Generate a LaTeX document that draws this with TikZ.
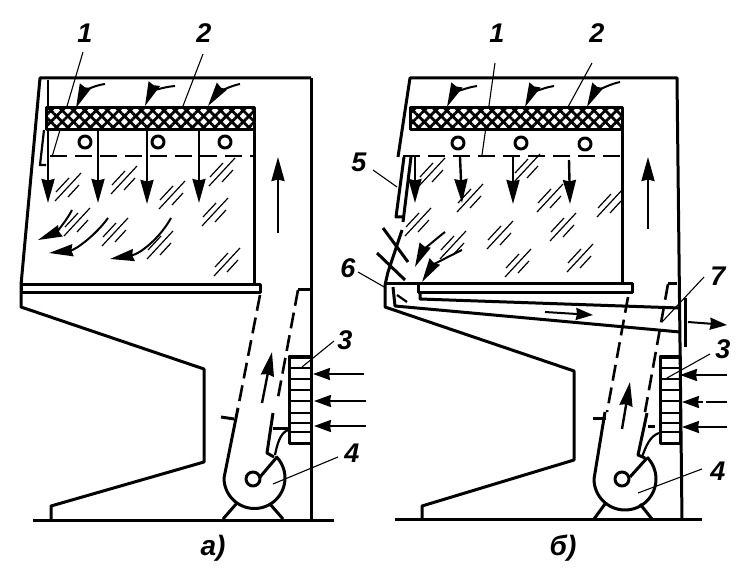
\documentclass[tikz,border=0pt]{standalone}
\usepackage{fontspec}
\setmainfont{Liberation Sans}
\usetikzlibrary{arrows.meta,patterns.meta}
\tikzset{
  wall/.style={line width=3pt, line join=round},
  leader/.style={line width=1.1pt},
  dashwall/.style={line width=2.6pt, dash pattern=on 16pt off 7pt},
  sashline/.style={line width=2.2pt},
  screen/.style={line width=1.8pt, dash pattern=on 17pt off 8pt},
  flow/.style={line width=2.4pt, -{Stealth[length=24pt,width=13pt,inset=1.5pt]}},
  swirl/.style={line width=2pt, -{Stealth[length=24pt,width=12pt,inset=1.5pt]}},
  intake/.style={line width=2pt, -{Stealth[length=17pt,width=12pt,inset=1pt]}},
  numlabel/.style={font=\bfseries\itshape\fontsize{27}{27}\selectfont, inner sep=0pt},
  caplabel/.style={font=\bfseries\itshape\fontsize{28}{28}\selectfont, inner sep=0pt},
  glass/.pic={
    \draw[line width=1.2pt] (-13,14) -- (13,-14);
    \draw[line width=1.2pt] (-12,5) -- (1,-9);
    \draw[line width=1.2pt] (0,10) -- (11,-2);
  }
}
\newcommand{\filterbar}[4]{
  \fill[white] (#1,#2) rectangle (#3,#4);
  \fill[pattern={Lines[angle=45,distance=8pt,line width=2.8pt]}] (#1,#2) rectangle (#3,#4);
  \fill[pattern={Lines[angle=-45,distance=8pt,line width=2.8pt]}] (#1,#2) rectangle (#3,#4);
  \draw[wall] (#1,#2) rectangle (#3,#4);
}
\begin{document}
\begin{tikzpicture}[x=1pt, y=-1pt]
    \useasboundingbox (0,0) rectangle (745,580);
    % a)
    \node[numlabel] (a1) at (85,33) {1};
    \node[numlabel] (a2) at (204,33) {2};
    \node[numlabel] (a3) at (345,340) {3};
    \node[numlabel] (a4) at (352,453) {4};
    \node[caplabel] (acap) at (213,548) {а)};
    \coordinate (a1end) at (52,157);
    \coordinate (a2end) at (183,106);
    \coordinate (a3end) at (302,367);
    \coordinate (a4end) at (273,484);
    \draw[leader] (83,52) -- (a1end);
    \draw[leader] (203,54) -- (a2end);
    \draw[leader] (334,341) -- (a3end);
    \draw[leader] (338,457) -- (a4end);
    \draw[wall] (311,78) -- (40,78) -- (21,285) -- (21,307) -- (204,369) -- (204,462) -- (51,506) -- (51,520);
    \draw[wall] (311,78) -- (311,520);
    \draw[wall] (33,520) -- (334,520);
    \draw[wall] (21,285) rectangle (260,293);
    \draw[wall] (254,108) -- (254,285);
    \draw[sashline] (48,80) -- (48,108);
    \draw[sashline] (44,130) -- (40,165) -- (46,165);
    \filterbar{46}{108}{254}{130}
    \draw[screen] (50,156) -- (253,156);
    \draw[wall] (85,142) circle (6);
    \draw[wall] (158,142) circle (6);
    \draw[wall] (225,142) circle (6);
    \draw[flow] (48,130) -- (48,203);
    \draw[flow] (98,130) -- (98,203);
    \draw[flow] (147,130) -- (147,204);
    \draw[flow] (199,130) -- (199,203);
    \draw[swirl] (105,84) .. controls (90,86) and (82,94) .. (76,108);
    \draw[swirl] (175,86) .. controls (160,87) and (150,94) .. (145,106);
    \draw[swirl] (240,84) .. controls (225,87) and (215,96) .. (208,106);
    \draw[swirl] (72,210) .. controls (66,222) and (55,233) .. (38,240);
    \draw[swirl] (108,218) .. controls (95,236) and (75,250) .. (49,253);
    \draw[swirl] (171,218) .. controls (160,238) and (140,254) .. (110,259);
    \pic at (68,187) {glass};
    \pic at (124,180) {glass};
    \pic at (172,195) {glass};
    \pic at (222,172) {glass};
    \pic at (215,212) {glass};
    \pic at (77,222) {glass};
    \pic at (115,232) {glass};
    \pic at (160,245) {glass};
    \pic at (227,262) {glass};
    \draw[flow] (278,233) -- (278,157);
    \draw[dashwall] (260,295) -- (238,408);
    \draw[wall] (221,417) -- (234,419);
    \draw[wall] (238,408) -- (224,478) arc[start angle=180, end angle=0, radius=30.5] arc[start angle=0, end angle=-45, radius=30.5];
    \draw[wall] (311,290) -- (298,290);
    \draw[dashwall] (298,290) -- (277,403);
    \draw[wall] (273,413) -- (267,453) -- (274,457);
    \draw[wall] (273,428) -- (288,428);
    \draw[sashline] (288,430) .. controls (280,433) and (277,445) .. (275,455);
    \draw[wall] (253,479) circle (7);
    \draw[wall] (260,477) -- (277,457);
    \draw[wall] (237,503) -- (223,519);
    \draw[wall] (270,504) -- (283,519);
    \draw[flow] (262,403) -- (272,352);
    \draw[wall] (289,357) rectangle (311,443);
    \draw[sashline] (289,368) -- (311,368);
    \draw[sashline] (289,379) -- (311,379);
    \draw[sashline] (289,390) -- (311,390);
    \draw[sashline] (289,401) -- (311,401);
    \draw[sashline] (289,413) -- (311,413);
    \draw[sashline] (289,423) -- (311,423);
    \draw[sashline] (289,432) -- (311,432);
    \draw[intake] (364,374) -- (313,374);
    \draw[intake] (366,401) -- (314,401);
    \draw[intake] (366,426) -- (314,426);
    % b)
    \node[numlabel] (b1) at (497,33) {1};
    \node[numlabel] (b2) at (597,33) {2};
    \node[numlabel] (b3) at (723,349) {3};
    \node[numlabel] (b4) at (718,471) {4};
    \node[numlabel] (b5) at (359,162) {5};
    \node[numlabel] (b6) at (348,268) {6};
    \node[numlabel] (b7) at (718,276) {7};
    \node[caplabel] (bcap) at (563,548) {б)};
    \coordinate (b1end) at (482,155);
    \coordinate (b2end) at (568,107);
    \coordinate (b3end) at (667,378);
    \coordinate (b4end) at (638,493);
    \coordinate (b5end) at (397,187);
    \coordinate (b6end) at (386,288);
    \coordinate (b7end) at (662,322);
    \draw[leader] (495,63) -- (b1end);
    \draw[leader] (592,63) -- (b2end);
    \draw[leader] (710,354) -- (b3end);
    \draw[leader] (702,469) -- (b4end);
    \draw[leader] (373,170) -- (b5end);
    \draw[leader] (358,272) -- (b6end);
    \draw[leader] (704,277) -- (b7end);
    \draw[wall] (398,157) -- (410,78) -- (677,78) -- (682,520);
    \draw[wall] (404,157) -- (396,217) -- (403,217);
    \draw[wall] (411,157) -- (403,222);
    \draw[wall] (402,230) -- (388,272) -- (385,285) -- (385,307) -- (574,371) -- (574,460) -- (422,506) -- (422,520);
    \draw[wall] (395,519) -- (702,519);
    \draw[wall] (385,284) -- (418,284);
    \draw[wall] (418,284) rectangle (632,293);
    \draw[wall] (420,293) -- (420,299) -- (680,308);
    \draw[wall] (393,287) -- (395,306) -- (680,332);
    \draw[sashline] (397,295) -- (407,302);
    \draw[wall] (622,108) -- (622,285);
    \draw[wall] (685,298) -- (685,347);
    \filterbar{410}{108}{622}{130}
    \draw[screen] (403,156) -- (620,156);
    \draw[wall] (458,143) circle (6);
    \draw[wall] (521,143) circle (6);
    \draw[wall] (585,144) circle (6);
    \draw[flow] (415,157) -- (415,203);
    \draw[flow] (460,157) -- (462,203);
    \draw[flow] (513,157) -- (513,204);
    \draw[flow] (569,160) -- (570,204);
    \draw[swirl] (477,86) .. controls (462,88) and (452,96) .. (447,107);
    \draw[swirl] (554,86) .. controls (540,88) and (530,96) .. (525,107);
    \draw[swirl] (620,82) .. controls (605,85) and (593,95) .. (587,107);
    \draw[swirl] (445,232) .. controls (432,242) and (422,252) .. (415,267);
    \draw[swirl] (462,250) .. controls (445,258) and (432,266) .. (422,282);
    \draw[wall] (383,228) -- (408,262);
    \draw[wall] (377,253) -- (405,280);
    \pic at (432,172) {glass};
    \pic at (470,198) {glass};
    \pic at (527,168) {glass};
    \pic at (550,198) {glass};
    \pic at (610,203) {glass};
    \pic at (418,222) {glass};
    \pic at (500,235) {glass};
    \pic at (563,227) {glass};
    \pic at (453,245) {glass};
    \pic at (518,263) {glass};
    \pic at (580,258) {glass};
    \draw[flow] (648,229) -- (648,157);
    \draw[intake] (545,312) -- (593,315);
    \draw[intake] (688,322) -- (727,325);
    \draw[dashwall] (628,297) -- (607,412);
    \draw[wall] (593,418) -- (606,418);
    \draw[wall] (605,412) -- (594,479) arc[start angle=180, end angle=0, radius=31] arc[start angle=0, end angle=-45, radius=31];
    \draw[wall] (668,284) -- (677,284);
    \draw[dashwall] (668,284) -- (645,412);
    \draw[wall] (647,413) -- (638,455) -- (645,458);
    \draw[wall] (648,426) -- (655,426);
    \draw[sashline] (659,433) .. controls (650,436) and (646,446) .. (642,457);
    \draw[wall] (622,479) circle (7);
    \draw[wall] (630,477) -- (647,458);
    \draw[wall] (605,504) -- (594,519);
    \draw[wall] (640,504) -- (652,519);
    \draw[flow] (622,429) -- (630,382);
    \draw[wall] (660,357) rectangle (680,443);
    \draw[sashline] (660,368) -- (680,368);
    \draw[sashline] (660,379) -- (680,379);
    \draw[sashline] (660,390) -- (680,390);
    \draw[sashline] (660,401) -- (680,401);
    \draw[sashline] (660,413) -- (680,413);
    \draw[sashline] (660,423) -- (680,423);
    \draw[sashline] (660,432) -- (680,432);
    \draw[intake] (727,375) -- (680,375);
    \draw[intake] (703,402) -- (682,402);
    \draw[line width=2pt] (727,402) -- (706,402);
    \draw[intake] (727,427) -- (682,427);
\end{tikzpicture}
\end{document}
